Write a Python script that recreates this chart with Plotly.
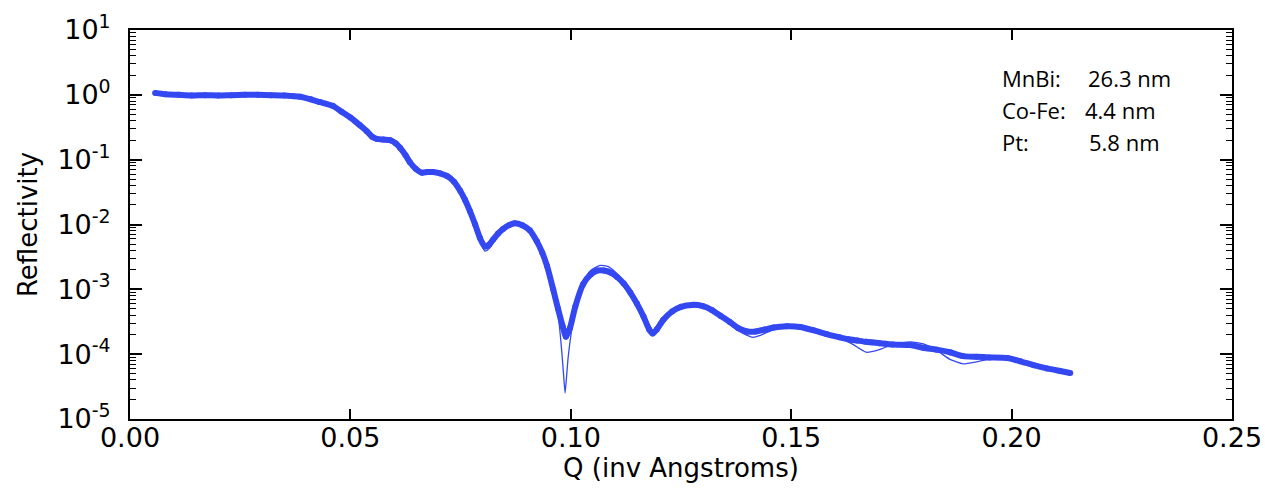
import plotly.graph_objects as go

# Measured reflectivity (Q in inverse Angstroms, log10 of reflectivity)
data_q = [0.0057, 0.0080, 0.0110, 0.0140, 0.0170, 0.0200, 0.0230, 0.0260, 0.0290, 0.0320,
          0.0350, 0.0370, 0.0386, 0.0410, 0.0430, 0.0460, 0.0480, 0.0500, 0.0520, 0.0537,
          0.0550, 0.0560, 0.0575, 0.0590, 0.0603, 0.0613, 0.0625, 0.0635, 0.0648, 0.0662,
          0.0675, 0.0687, 0.0703, 0.0719, 0.0735, 0.0749, 0.0760, 0.0771, 0.0783, 0.0794,
          0.0805, 0.0815, 0.0824, 0.0835, 0.0846, 0.0860, 0.0873, 0.0890, 0.0907, 0.0923,
          0.0935, 0.0946, 0.0960, 0.0971, 0.0982, 0.0989, 0.0998, 0.1010, 0.1028, 0.1045,
          0.1060, 0.1075, 0.1090, 0.1105, 0.1120, 0.1135, 0.1150, 0.1165, 0.1178, 0.1186,
          0.1195, 0.1210, 0.1230, 0.1250, 0.1275, 0.1300, 0.1320, 0.1340, 0.1360, 0.1380,
          0.1400, 0.1420, 0.1440, 0.1460, 0.1490, 0.1520, 0.1550, 0.1580, 0.1610, 0.1630,
          0.1650, 0.1670, 0.1700, 0.1730, 0.1770, 0.1800, 0.1830, 0.1860, 0.1890, 0.1920,
          0.1950, 0.1990, 0.2020, 0.2050, 0.2080, 0.2110, 0.2133]
data_logr = [0.03, 0.01, 0.00, -0.01, -0.005, -0.01, -0.005, 0.00, 0.00, -0.005,
             -0.01, -0.02, -0.03, -0.07, -0.11, -0.17, -0.26, -0.35, -0.46, -0.56,
             -0.65, -0.68, -0.69, -0.70, -0.75, -0.82, -0.93, -1.04, -1.14, -1.20,
             -1.19, -1.19, -1.21, -1.25, -1.34, -1.48, -1.62, -1.79, -2.00, -2.21,
             -2.34, -2.31, -2.23, -2.14, -2.07, -2.01, -1.98, -2.01, -2.09, -2.26,
             -2.43, -2.64, -3.00, -3.30, -3.58, -3.73, -3.60, -3.27, -2.92, -2.77,
             -2.71, -2.71, -2.74, -2.81, -2.91, -3.05, -3.22, -3.42, -3.62, -3.68,
             -3.62, -3.47, -3.34, -3.27, -3.24, -3.26, -3.32, -3.41, -3.50, -3.60,
             -3.65, -3.65, -3.62, -3.59, -3.57, -3.58, -3.63, -3.69, -3.74, -3.77,
             -3.79, -3.81, -3.83, -3.85, -3.86, -3.90, -3.93, -3.97, -4.03, -4.04,
             -4.05, -4.06, -4.11, -4.17, -4.22, -4.26, -4.29]

# Model fit
fit_q = [0.0057, 0.0110, 0.0170, 0.0230, 0.0290, 0.0350, 0.0386, 0.0430, 0.0480, 0.0520,
         0.0550, 0.0575, 0.0603, 0.0635, 0.0662, 0.0687, 0.0719, 0.0749, 0.0771, 0.0794,
         0.0805, 0.0815, 0.0835, 0.0860, 0.0873, 0.0890, 0.0907, 0.0923, 0.0946, 0.0960,
         0.0970, 0.0975, 0.0980, 0.0984, 0.0987, 0.0990, 0.0994, 0.1000, 0.1010, 0.1028,
         0.1045, 0.1066, 0.1085, 0.1105, 0.1120, 0.1135, 0.1150, 0.1165, 0.1178, 0.1186,
         0.1195, 0.1210, 0.1230, 0.1250, 0.1275, 0.1300, 0.1320, 0.1340, 0.1360, 0.1380,
         0.1400, 0.1413, 0.1430, 0.1460, 0.1490, 0.1520, 0.1550, 0.1580, 0.1610, 0.1640,
         0.1670, 0.1700, 0.1730, 0.1770, 0.1800, 0.1830, 0.1860, 0.1890, 0.1920, 0.1960,
         0.1990, 0.2020, 0.2050, 0.2080, 0.2110, 0.2133]
fit_logr = [0.01, 0.00, -0.005, -0.005, 0.00, -0.01, -0.03, -0.11, -0.26, -0.46,
            -0.64, -0.69, -0.75, -1.05, -1.21, -1.20, -1.25, -1.48, -1.80, -2.25,
            -2.41, -2.37, -2.16, -2.02, -1.98, -2.00, -2.08, -2.25, -2.62, -2.98,
            -3.35, -3.62, -4.00, -4.35, -4.60, -4.38, -4.05, -3.72, -3.28, -2.88,
            -2.71, -2.63, -2.65, -2.76, -2.88, -3.04, -3.22, -3.43, -3.63, -3.69,
            -3.63, -3.48, -3.34, -3.27, -3.24, -3.26, -3.32, -3.42, -3.53, -3.64,
            -3.71, -3.74, -3.71, -3.62, -3.57, -3.58, -3.63, -3.69, -3.75, -3.85,
            -3.97, -3.93, -3.85, -3.81, -3.84, -3.94, -4.08, -4.15, -4.12, -4.06,
            -4.05, -4.10, -4.17, -4.22, -4.26, -4.29]

x_ticks = [0.00, 0.05, 0.10, 0.15, 0.20, 0.25]
x_tick_labels = ["0.00", "0.05", "0.10", "0.15", "0.20", "0.25"]
y_exponents = [-5, -4, -3, -2, -1, 0, 1]
y_tick_labels = ["10<sup>%d</sup>" % e for e in y_exponents]

layers = [("MnBi:", "26.3 nm"), ("Co-Fe:", "4.4 nm"), ("Pt:", "5.8 nm")]

BLUE = "rgb(52,72,242)"

data_r = [10 ** v for v in data_logr]
fit_r = [10 ** v for v in fit_logr]

fig = go.Figure()
fig.add_trace(go.Scatter(
    x=data_q, y=data_r, mode="lines+markers",
    line=dict(color=BLUE, width=6, shape="spline", smoothing=0.6),
    marker=dict(color=BLUE, size=6),
    showlegend=False, name="data"))
fig.add_trace(go.Scatter(
    x=fit_q, y=fit_r, mode="lines",
    line=dict(color=BLUE, width=1.3, shape="spline", smoothing=0.5),
    showlegend=False, name="fit"))

minor_vals = [k * 10 ** e for e in range(-5, 1) for k in range(2, 10)]

FONT = "DejaVu Sans"
fig.update_layout(
    width=1265, height=488,
    margin=dict(l=130, r=33, t=30, b=69),
    paper_bgcolor="white", plot_bgcolor="white",
    font=dict(family=FONT, size=27, color="black"),
    xaxis=dict(
        range=[0, 0.25], tickvals=x_ticks, ticktext=x_tick_labels,
        ticks="inside", ticklen=10, tickwidth=1.5, tickcolor="black",
        showline=True, linewidth=2, linecolor="black", mirror="ticks",
        showgrid=False, zeroline=False, automargin=False, ticklabelstandoff=-6,
        tickfont=dict(family=FONT, size=27),
        title=dict(text="Q (inv Angstroms)", font=dict(family=FONT, size=26), standoff=6),
    ),
    yaxis=dict(
        type="log", range=[-5, 1],
        tickvals=[10 ** e for e in y_exponents], ticktext=y_tick_labels,
        ticks="inside", ticklen=12, tickwidth=1.5, tickcolor="black",
        minor=dict(ticks="inside", ticklen=6, tickwidth=1.2, tickcolor="black",
                   tickvals=minor_vals, showgrid=False),
        showline=True, linewidth=2, linecolor="black", mirror="ticks",
        showgrid=False, zeroline=False, automargin=False, ticklabelstandoff=12,
        tickfont=dict(family=FONT, size=27),
        title=dict(text="Reflectivity", font=dict(family=FONT, size=26), standoff=12),
    ),
)

row_y = [0.259, -0.235, -0.728]
for (lab, val), yy in zip(layers, row_y):
    fig.add_annotation(x=0.1974, y=yy, xref="x", yref="y", text=lab, showarrow=False,
                       xanchor="left", yanchor="middle",
                       font=dict(family="Open Sans", size=22, color="black"))
for (lab, val), yy, xx in zip(layers, row_y, [0.2169, 0.2162, 0.2171]):
    fig.add_annotation(x=xx, y=yy, xref="x", yref="y", text=val, showarrow=False,
                       xanchor="left", yanchor="middle",
                       font=dict(family="Open Sans", size=22, color="black"))

fig.write_html("out.html", config={"displayModeBar": False},
               post_script="document.body.style.margin='0';")
